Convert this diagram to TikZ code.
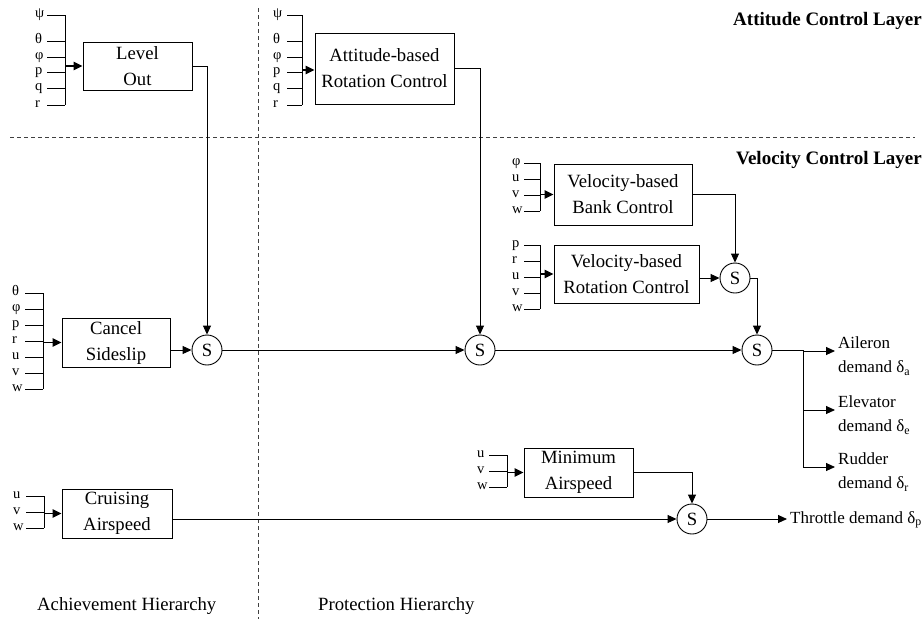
\documentclass[tikz,border=0pt]{standalone}
\usepackage{fontspec}
\setmainfont{Liberation Serif}
\usetikzlibrary{arrows.meta}
\begin{document}
\begin{tikzpicture}[x=1pt,y=-1pt,
  block/.style={draw, line width=1pt, align=center, inner sep=0pt,
    font=\fontsize{18.7}{26}\selectfont},
  sumnode/.style={draw, circle, line width=0.9pt, minimum size=30pt, inner sep=0pt,
    font=\fontsize{18.7}{22}\selectfont},
  wire/.style={line width=0.9pt},
  flow/.style={wire, -{Triangle[length=9pt,width=8pt]}},
  feed/.style={line width=1.6pt, -{Triangle[length=9pt,width=8.5pt]}},
  sig/.style={font=\fontsize{14.5}{16}\selectfont, inner sep=0pt, anchor=mid west},
  outlbl/.style={font=\fontsize{17}{24.5}\selectfont, align=left, anchor=west, inner sep=0pt},
  layer/.style={font=\bfseries\fontsize{19}{22}\selectfont, anchor=mid east, inner sep=0pt},
  caption/.style={font=\fontsize{18.7}{22}\selectfont, anchor=mid west, inner sep=0pt},
  divider/.style={line width=0.8pt, dash pattern=on 4pt off 3pt, black!75}]
\useasboundingbox (0,0) rectangle (924,619);

% layer and hierarchy separators
\draw[divider] (10,137) -- (915,137);
\draw[divider] (258,8) -- (258,619);
\node[layer] at (922,23) {Attitude Control Layer};
\node[layer] at (922,162) {Velocity Control Layer};
\node[caption] at (37,608) {Achievement Hierarchy};
\node[caption] at (318,608) {Protection Hierarchy};

% control blocks
\node[block, minimum width=109pt, minimum height=48pt] (lvl) at (137.5,66) {Level\\Out};
\node[block, minimum width=139pt, minimum height=71pt] (att) at (384.5,68.5) {Attitude-based\\Rotation Control};
\node[block, minimum width=108pt, minimum height=49pt] (css) at (116,342.5) {Cancel\\Sideslip};
\node[block, minimum width=110pt, minimum height=49pt] (cru) at (117,513.5) {Cruising\\Airspeed};
\node[block, minimum width=138pt, minimum height=61pt] (bank) at (623,194.5) {Velocity-based\\Bank Control};
\node[block, minimum width=145pt, minimum height=58pt] (vrot) at (626.5,274) {Velocity-based\\Rotation Control};
\node[block, minimum width=109pt, minimum height=49pt] (mina) at (578.5,472.5) {Minimum\\Airspeed};

% summing junctions
\node[sumnode] (s1) at (207,350) {S};
\node[sumnode] (s2) at (480,350) {S};
\node[sumnode] (s3) at (757,350) {S};
\node[sumnode] (s4) at (735,278) {S};
\node[sumnode] (s5) at (692,519) {S};

% input signal buses
\foreach \yy/\ll in {15/ψ,41/θ,57/φ,72/p,88/q,105/r}{
  \node[sig] at (35,\yy) {\ll};
  \draw[wire] (47,\yy) -- (65,\yy);}
\draw[wire] (65,15) -- (65,105);
\coordinate (lvlbus) at (65,66);
\draw[feed] (lvlbus) -- (lvl.west);

\foreach \yy/\ll in {15/ψ,41/θ,57/φ,72/p,88/q,105/r}{
  \node[sig] at (273,\yy) {\ll};
  \draw[wire] (287,\yy) -- (302,\yy);}
\draw[wire] (302,15) -- (302,105);
\coordinate (attbus) at (302,70);
\draw[feed] (attbus) -- (att.west |- attbus);

\foreach \yy/\ll in {293/θ,309/φ,325/p,341/r,357/u,373/v,389/w}{
  \node[sig] at (12,\yy) {\ll};
  \draw[wire] (25,\yy) -- (43,\yy);}
\draw[wire] (43,293) -- (43,389);
\coordinate (cssbus) at (43,342.5);
\draw[feed] (cssbus) -- (css.west);

\foreach \yy/\ll in {496/u,512/v,528/w}{
  \node[sig] at (13,\yy) {\ll};
  \draw[wire] (26,\yy) -- (44,\yy);}
\draw[wire] (44,496) -- (44,528);
\coordinate (crubus) at (44,513.5);
\draw[feed] (crubus) -- (cru.west);

\foreach \yy/\ll in {163/φ,179/u,195/v,211/w}{
  \node[sig] at (512,\yy) {\ll};
  \draw[wire] (524,\yy) -- (540,\yy);}
\draw[wire] (540,163) -- (540,211);
\coordinate (bankbus) at (540,194.5);
\draw[feed] (bankbus) -- (bank.west);

\foreach \yy/\ll in {245/p,261/r,277/u,293/v,309/w}{
  \node[sig] at (512,\yy) {\ll};
  \draw[wire] (524,\yy) -- (540,\yy);}
\draw[wire] (540,245) -- (540,309);
\coordinate (vrotbus) at (540,274);
\draw[feed] (vrotbus) -- (vrot.west);

\foreach \yy/\ll in {455/u,471/v,487/w}{
  \node[sig] at (477,\yy) {\ll};
  \draw[wire] (489,\yy) -- (507,\yy);}
\draw[wire] (507,455) -- (507,487);
\coordinate (minabus) at (507,472.5);
\draw[feed] (minabus) -- (mina.west);

% signal flow between blocks
\draw[flow] (lvl.east) -| (s1.north);
\draw[flow] (css.east |- s1.west) -- (s1.west);
\draw[flow] (s1.east) -- (s2.west);
\draw[flow] (att.east) -| (s2.north);
\draw[flow] (s2.east) -- (s3.west);
\draw[flow] (bank.east) -| (s4.north);
\draw[flow] (vrot.east |- s4.west) -- (s4.west);
\draw[flow] (s4.east) -| (s3.north);
\draw[flow] (mina.east) -| (s5.north);
\draw[flow] (cru.east |- s5.west) -- (s5.west);

% actuator demands
\coordinate (split) at (803,350);
\coordinate (ail) at (835,351);
\coordinate (ele) at (835,410);
\coordinate (rud) at (835,467);
\coordinate (thr) at (787,519);
\draw[wire] (s3.east) -- (split);
\draw[flow] (split) |- (ail);
\draw[flow] (split) |- (ele);
\draw[flow] (split) |- (rud);
\draw[flow] (s5.east) -- (thr);
\node[outlbl] at ([xshift=3pt,yshift=-5pt]ail) {Aileron\\demand δ\textsubscript{a}};
\node[outlbl] at ([xshift=3pt,yshift=-5pt]ele) {Elevator\\demand δ\textsubscript{e}};
\node[outlbl] at ([xshift=3pt,yshift=-5pt]rud) {Rudder\\demand δ\textsubscript{r}};
\node[outlbl] at ([xshift=3pt,yshift=-1pt]thr) {Throttle demand δ\textsubscript{p}};
\end{tikzpicture}
\end{document}
